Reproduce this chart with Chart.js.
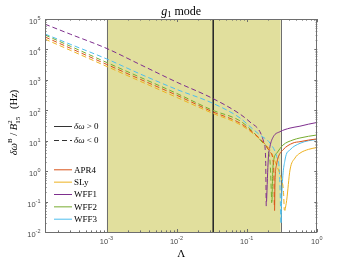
<!DOCTYPE html>
<html>
<head>
<meta charset="utf-8">
<script src="https://cdn.jsdelivr.net/npm/chart.js@4.4.1/dist/chart.umd.min.js"></script>
<style>
  html, body { margin: 0; padding: 0; background: #ffffff; }
  #wrap { width: 350px; height: 263px; position: relative; }
</style>
</head>
<body>
<div id="wrap"><canvas id="c" width="350" height="263"></canvas></div>
<script>
// ---- data (Λ, |δω^B / B15^2| in Hz) ----
const eosNames = ['APR4', 'SLy', 'WFF1', 'WFF2', 'WFF3'];

const apr4NegLam = [1.31e-4, 3e-4, 1e-3, 3e-3, 0.01, 0.0316, 0.079, 0.121, 0.168, 0.211, 0.236, 0.241, 0.244];
const apr4NegVal = [25700, 11000, 3200, 1040, 309, 91, 38, 18.6, 9.1, 4.3, 1.9, 0.6, 0.068];
const apr4PosLam = [0.246, 0.249, 0.262, 0.275, 0.324, 0.45, 0.566, 0.75, 1.0];
const apr4PosVal = [0.05, 0.41, 1.6, 2.7, 5.0, 8.4, 9.3, 10.5, 11.5];

const slyNegLam = [1.31e-4, 3e-4, 1e-3, 3e-3, 0.01, 0.0316, 0.079, 0.121, 0.168, 0.211, 0.264, 0.31, 0.33, 0.338];
const slyNegVal = [21900, 9400, 2750, 895, 263, 81, 34, 17.3, 9.1, 5.0, 1.5, 0.51, 0.2, 0.053];
const slyPosLam = [0.345, 0.366, 0.408, 0.481, 0.566, 0.75, 1.0];
const slyPosVal = [0.05, 0.11, 1.09, 2.7, 3.9, 5.2, 6.0];

const wff1NegLam = [1.31e-4, 3e-4, 1e-3, 3e-3, 0.01, 0.0316, 0.079, 0.11, 0.152, 0.174, 0.183, 0.187];
const wff1NegVal = [67600, 31800, 10700, 3160, 830, 251, 75, 41, 19.8, 8.4, 2.9, 0.062];
const wff1PosLam = [0.189, 0.2, 0.211, 0.236, 0.294, 0.408, 0.566, 0.75, 1.0];
const wff1PosVal = [0.1, 2.5, 6.3, 13.5, 19.8, 26, 30, 35, 40];

const wff2NegLam = [1.31e-4, 3e-4, 1e-3, 3e-3, 0.01, 0.0316, 0.079, 0.121, 0.168, 0.211, 0.224];
const wff2NegVal = [29800, 12800, 3700, 1210, 355, 102, 45, 19.8, 8.4, 2.3, 0.09];
const wff2PosLam = [0.226, 0.233, 0.264, 0.324, 0.45, 0.566, 0.75, 1.0];
const wff2PosVal = [0.1, 1.37, 3.9, 7.2, 10.6, 12.3, 14, 15.5];

const wff3NegLam = [1.31e-4, 3e-4, 1e-3, 3e-3, 0.01, 0.0316, 0.079, 0.11, 0.152, 0.211, 0.264, 0.29, 0.303];
const wff3NegVal = [32100, 14800, 4840, 1550, 480, 174, 56, 29, 15.4, 8.4, 3.0, 0.74, 0.017];
const wff3PosLam = [0.305, 0.31, 0.346, 0.408, 0.566, 0.75, 1.0];
const wff3PosVal = [0.02, 0.11, 2.3, 5.0, 8.2, 10, 11];

const shadeLam = [1e-3, 0.3];     // shaded Λ band
const markerLam = [0.0328];       // vertical black line
const xRange = [1.31e-4, 1];
const yRange = [1e-2, 1e5];
const xTickExp = [-3, -2, -1, 0];
const yTickExp = [-2, -1, 0, 1, 2, 3, 4, 5];

const eosColors = ['#D95319', '#EDB120', '#7E2F8E', '#77AC30', '#4DBEEE'];

const series = [
  [apr4NegLam, apr4NegVal, apr4PosLam, apr4PosVal],
  [slyNegLam, slyNegVal, slyPosLam, slyPosVal],
  [wff1NegLam, wff1NegVal, wff1PosLam, wff1PosVal],
  [wff2NegLam, wff2NegVal, wff2PosLam, wff2PosVal],
  [wff3NegLam, wff3NegVal, wff3PosLam, wff3PosVal]
];

function pts(xs, ys) { return xs.map((x, i) => ({ x: x, y: ys[i] })); }

const datasets = [];
series.forEach((s, i) => {
  datasets.push({ label: eosNames[i] + ' neg', data: pts(s[0], s[1]), borderColor: eosColors[i],
    borderWidth: 1, borderDash: [5, 3], pointRadius: 0, cubicInterpolationMode: 'monotone', fill: false });
  datasets.push({ label: eosNames[i] + ' pos', data: pts(s[2], s[3]), borderColor: eosColors[i],
    borderWidth: 1, pointRadius: 0, cubicInterpolationMode: 'monotone', fill: false });
});

const SERIF = '"Liberation Serif", "DejaVu Serif", serif';
const SANS = '"Liberation Sans", Arial, sans-serif';
const FRAME = '#6e6e6e';

function richWidth(ctx, segs) {
  let w = 0;
  segs.forEach(s => {
    ctx.font = s.f;
    if (s.t2 !== undefined) {
      const w1 = ctx.measureText(s.t).width;
      ctx.font = s.f2 || s.f;
      w += Math.max(w1, ctx.measureText(s.t2).width);
    } else w += ctx.measureText(s.t).width;
  });
  return w;
}
function drawRich(ctx, segs, x, y) {
  segs.forEach(s => {
    ctx.font = s.f;
    if (s.t2 !== undefined) {
      const w1 = ctx.measureText(s.t).width;
      ctx.fillText(s.t, x, y + (s.dy || 0));
      ctx.font = s.f2 || s.f;
      const w2 = ctx.measureText(s.t2).width;
      ctx.fillText(s.t2, x, y + (s.dy2 || 0));
      x += Math.max(w1, w2);
    } else {
      ctx.fillText(s.t, x, y + (s.dy || 0));
      x += ctx.measureText(s.t).width;
    }
  });
}

const decor = {
  id: 'decor',
  beforeDatasetsDraw(chart) {
    const { ctx, chartArea: a, scales: { x, y } } = chart;
    ctx.save();
    const x0 = x.getPixelForValue(shadeLam[0]);
    const x1 = x.getPixelForValue(shadeLam[1]);
    ctx.fillStyle = '#E1DF9D';
    ctx.fillRect(x0, a.top, x1 - x0, a.bottom - a.top);
    ctx.strokeStyle = FRAME;
    ctx.lineWidth = 1;
    ctx.beginPath();
    ctx.moveTo(Math.round(x0) + 0.5, a.top); ctx.lineTo(Math.round(x0) + 0.5, a.bottom);
    ctx.moveTo(Math.round(x1) + 0.5, a.top); ctx.lineTo(Math.round(x1) + 0.5, a.bottom);
    ctx.stroke();
    const xm = x.getPixelForValue(markerLam[0]);
    ctx.strokeStyle = '#2a2a2a';
    ctx.lineWidth = 1.6;
    ctx.beginPath();
    ctx.moveTo(xm, a.top); ctx.lineTo(xm, a.bottom);
    ctx.stroke();
    ctx.restore();
  },
  afterDraw(chart) {
    const { ctx, chartArea: a, scales: { x, y } } = chart;
    ctx.save();
    // frame
    ctx.strokeStyle = FRAME;
    ctx.lineWidth = 1;
    ctx.strokeRect(Math.round(a.left) + 0.5, Math.round(a.top) + 0.5,
      Math.round(a.right - a.left) - 1, Math.round(a.bottom - a.top));
    // ticks
    ctx.beginPath();
    for (let e = -4; e <= 0; e++) {
      for (let k = 1; k <= 9; k++) {
        const v = k * Math.pow(10, e);
        if (v < xRange[0] || v > xRange[1]) continue;
        const px = Math.round(x.getPixelForValue(v)) + 0.5;
        const len = k === 1 ? 3 : 1.6;
        ctx.moveTo(px, a.bottom); ctx.lineTo(px, a.bottom - len);
        ctx.moveTo(px, a.top); ctx.lineTo(px, a.top + len);
      }
    }
    for (let e = -2; e <= 5; e++) {
      for (let k = 1; k <= 9; k++) {
        const v = k * Math.pow(10, e);
        if (v < yRange[0] || v > yRange[1]) continue;
        const py = Math.round(y.getPixelForValue(v)) + 0.5;
        const len = k === 1 ? 3 : 1.6;
        ctx.moveTo(a.left, py); ctx.lineTo(a.left + len, py);
        ctx.moveTo(a.right, py); ctx.lineTo(a.right - len, py);
      }
    }
    ctx.stroke();

    // tick labels
    ctx.fillStyle = '#4a4a4a';
    ctx.textBaseline = 'alphabetic';
    const baseF = '7.5px ' + SANS, supF = '5.5px ' + SANS;
    yTickExp.forEach(e => {
      const py = y.getPixelForValue(Math.pow(10, e));
      const segs = [{ t: '10', f: baseF }, { t: String(e).replace('-', '-'), f: supF, dy: -4 }];
      const w = richWidth(ctx, segs);
      drawRich(ctx, segs, a.left - 4.5 - w, py + 5.3);
    });
    xTickExp.forEach(e => {
      const px = x.getPixelForValue(Math.pow(10, e));
      const segs = [{ t: '10', f: baseF }, { t: String(e), f: supF, dy: -4 }];
      const w = richWidth(ctx, segs);
      drawRich(ctx, segs, px - w / 2 - 0.5, a.bottom + 12);
    });

    // title
    ctx.fillStyle = '#000';
    const tSegs = [{ t: 'g', f: 'italic 12px ' + SERIF }, { t: '1', f: '8.5px ' + SERIF, dy: 2.5 },
      { t: ' mode', f: '12px ' + SERIF }];
    const tw = richWidth(ctx, tSegs);
    drawRich(ctx, tSegs, (a.left + a.right) / 2 - tw / 2, 14.5);

    // x label
    ctx.font = '11px ' + SERIF;
    ctx.textAlign = 'center';
    ctx.fillText('Λ', (a.left + a.right) / 2, 257);
    ctx.textAlign = 'left';

    // y label (rotated)
    ctx.save();
    ctx.translate(16.5, (a.top + a.bottom) / 2 - 3);
    ctx.rotate(-Math.PI / 2);
    const ySegs = [
      { t: 'δω', f: 'italic 10.5px ' + SERIF },
      { t: 'B', f: '7px ' + SERIF, dy: -4.5 },
      { t: ' / ', f: '10.5px ' + SERIF },
      { t: 'B', f: 'italic 10.5px ' + SERIF },
      { t: '2', f: '7px ' + SERIF, dy: -4.5, t2: '15', f2: '7px ' + SERIF, dy2: 3 },
      { t: '   (Hz)', f: '10.5px ' + SERIF }
    ];
    const yw = richWidth(ctx, ySegs);
    drawRich(ctx, ySegs, -yw / 2, 0);
    ctx.restore();

    // legend
    const lx0 = 54, lx1 = 72, tx = 74;
    const legendRows = [
      { yv: 126, color: '#333', dash: [], segs: [{ t: 'δω', f: 'italic 9px ' + SERIF }, { t: ' > 0', f: '9px ' + SERIF }] },
      { yv: 140, color: '#333', dash: [5, 3], segs: [{ t: 'δω', f: 'italic 9px ' + SERIF }, { t: ' < 0', f: '9px ' + SERIF }] }
    ];
    eosNames.forEach((n, i) => {
      legendRows.push({ yv: 169.3 + i * 12.35, color: eosColors[i], dash: [], segs: [{ t: n, f: '9px ' + SERIF }] });
    });
    legendRows.forEach(r => {
      ctx.strokeStyle = r.color;
      ctx.lineWidth = 1;
      ctx.setLineDash(r.dash);
      ctx.beginPath();
      ctx.moveTo(lx0, r.yv + 0.5); ctx.lineTo(lx1, r.yv + 0.5);
      ctx.stroke();
      ctx.setLineDash([]);
      ctx.fillStyle = '#000';
      drawRich(ctx, r.segs, tx, r.yv + 3.3);
    });
    ctx.restore();
  }
};

new Chart(document.getElementById('c'), {
  type: 'line',
  data: { datasets: datasets },
  options: {
    responsive: false,
    animation: false,
    devicePixelRatio: 1,
    layout: { padding: { left: 0, top: 19, right: 32.7, bottom: 0 } },
    plugins: { legend: { display: false }, tooltip: { enabled: false }, title: { display: false } },
    scales: {
      x: {
        type: 'logarithmic', min: xRange[0], max: xRange[1],
        grid: { display: false }, border: { display: false },
        ticks: { display: false },
        afterFit: s => { s.height = 31; }
      },
      y: {
        type: 'logarithmic', min: yRange[0], max: yRange[1],
        grid: { display: false }, border: { display: false },
        ticks: { display: false },
        afterFit: s => { s.width = 45; }
      }
    }
  },
  plugins: [decor]
});
</script>
</body>
</html>
